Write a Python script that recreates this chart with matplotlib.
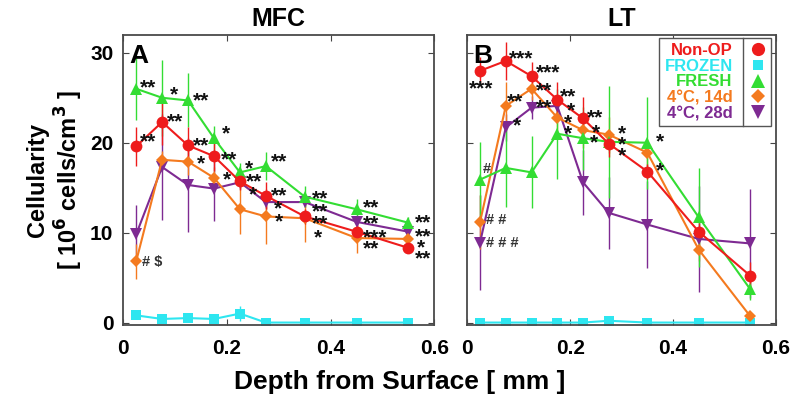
import matplotlib
matplotlib.use('Agg')
import matplotlib.pyplot as plt
from matplotlib.lines import Line2D

plt.rcParams['font.family'] = ['Liberation Sans', 'DejaVu Sans']
plt.rcParams['font.weight'] = 'bold'

# depth of each slice (mm)
depth = [0.025, 0.075, 0.125, 0.175, 0.225, 0.275, 0.35, 0.45, 0.55]

groups = ['Non-OP', 'FROZEN', 'FRESH', '4°C, 14d', '4°C, 28d']
colors = ['#ee1c1c', '#2ee6f0', '#33dd33', '#f47a1f', '#7e2a92']
markers = ['o', 's', '^', 'D', 'v']
msizes = [8.5, 6.5, 8.5, 6.5, 8.5]

# MFC cellularity (10^6 cells/cm^3) and error
mfc_nonop = [19.6, 22.3, 19.7, 18.5, 15.7, 14.1, 11.8, 10.1, 8.3]
mfc_nonop_err = [2.2, 2.5, 2.1, 1.6, 1.0, 1.5, 0.8, 0.8, 0.6]
mfc_frozen = [0.8, 0.4, 0.5, 0.4, 1.0, 0.0, 0.0, 0.0, 0.0]
mfc_frozen_err = [0.2, 0.2, 0.2, 0.2, 0.8, 0.0, 0.0, 0.0, 0.0]
mfc_fresh = [26.0, 25.0, 24.7, 20.5, 16.7, 17.4, 14.0, 12.6, 11.1]
mfc_fresh_err = [3.5, 4.2, 3.0, 1.4, 1.0, 1.6, 1.2, 1.1, 0.6]
mfc_14d = [6.8, 18.1, 17.9, 16.1, 12.6, 11.8, 11.6, 9.4, 9.3]
mfc_14d_err = [1.9, 1.0, 1.5, 1.2, 2.8, 3.1, 2.6, 1.7, 0.6]
mfc_28d = [9.8, 17.3, 15.3, 14.9, 15.6, 13.4, 13.4, 11.2, 10.1]
mfc_28d_err = [3.3, 5.9, 5.2, 3.6, 0.8, 0.8, 0.6, 0.8, 0.5]

# LT cellularity and error
lt_nonop = [28.0, 29.1, 27.4, 24.8, 22.7, 19.9, 16.8, 10.1, 5.2]
lt_nonop_err = [1.5, 2.1, 1.6, 1.9, 2.4, 1.5, 0.8, 1.0, 1.5]
lt_frozen = [0.0, 0.0, 0.0, 0.0, 0.0, 0.2, 0.0, 0.0, 0.0]
lt_frozen_err = [0, 0, 0, 0, 0, 0, 0, 0, 0]
lt_fresh = [15.9, 17.2, 16.7, 21.0, 20.5, 20.1, 20.0, 11.7, 3.7]
lt_fresh_err = [4.2, 4.3, 4.0, 5.0, 3.5, 6.2, 5.1, 5.5, 1.2]
lt_14d = [11.2, 24.1, 26.0, 22.8, 21.4, 20.9, 18.9, 8.1, 0.7]
lt_14d_err = [3.0, 2.6, 1.3, 1.5, 2.0, 2.0, 1.5, 1.2, 0.5]
lt_28d = [8.9, 21.7, 23.9, 24.1, 15.6, 12.2, 10.9, 9.3, 8.8]
lt_28d_err = [5.3, 1.5, 1.3, 1.2, 3.6, 4.0, 4.8, 5.9, 6.1]

mfc = [mfc_nonop, mfc_frozen, mfc_fresh, mfc_14d, mfc_28d]
mfc_err = [mfc_nonop_err, mfc_frozen_err, mfc_fresh_err, mfc_14d_err, mfc_28d_err]
lt = [lt_nonop, lt_frozen, lt_fresh, lt_14d, lt_28d]
lt_err = [lt_nonop_err, lt_frozen_err, lt_fresh_err, lt_14d_err, lt_28d_err]

# significance marks: (group index, depth index, text, dx px, dy px)
mfc_marks = [
    (2, 0, '**', 4, 7), (2, 1, '*', 8, 9), (2, 2, '**', 5, 6), (2, 3, '*', 8, 10),
    (0, 0, '**', 4, 10), (0, 1, '**', 5, 6), (0, 2, '**', 5, 6), (3, 2, '*', 9, 4),
    (0, 3, '**', 7, 2), (3, 3, '*', 9, 4), (2, 4, '*', 5, 10), (2, 4, '**', 6, -3),
    (4, 4, '*', 9, -7), (2, 5, '**', 5, 10), (0, 5, '**', 5, 6), (4, 5, '*', 8, -1),
    (3, 5, '*', 9, 1), (2, 6, '**', 7, 4), (4, 6, '**', 7, -4), (0, 6, '**', 7, -1),
    (3, 6, '*', 9, -14), (2, 7, '**', 6, 7), (4, 7, '**', 6, 4), (0, 7, '***', 6, 0),
    (3, 7, '**', 6, -5), (2, 8, '**', 6, 6), (4, 8, '**', 6, 1), (3, 8, '*', 8, -3),
    (0, 8, '**', 6, -5), (3, 0, '# $', 6, -1),
]
lt_marks = [
    (0, 1, '***', 3, 8), (0, 0, '***', -11, -12), (0, 2, '***', 4, 9),
    (3, 1, '**', 1, 10), (3, 2, '**', 4, 4), (4, 2, '**', 4, 6), (4, 1, '*', 7, 8),
    (0, 3, '**', 3, 9), (0, 3, '*', 10, -5), (3, 3, '*', 7, 1), (2, 3, '*', 7, 6),
    (0, 4, '**', 4, 7), (3, 4, '*', 9, 3), (2, 4, '*', 7, 1), (3, 5, '*', 9, 7),
    (2, 5, '*', 9, 3), (0, 5, '*', 9, -6), (2, 6, '*', 9, 7), (0, 6, '*', 9, 7),
    (2, 0, '#', 3, 11), (3, 0, '# #', 6, 2), (4, 0, '# # #', 6, 0),
]

fig = plt.figure(figsize=(8, 4.05), dpi=100)
ax1 = fig.add_axes([0.154, 0.198, 0.389, 0.716])
ax2 = fig.add_axes([0.584, 0.198, 0.386, 0.716])

draw_order = [1, 4, 3, 2, 0]
for ax, vals, errs, marks, title, letter in [
        (ax1, mfc, mfc_err, mfc_marks, 'MFC', 'A'),
        (ax2, lt, lt_err, lt_marks, 'LT', 'B')]:
    for g in draw_order:
        ax.errorbar(depth, vals[g], yerr=errs[g], color=colors[g], marker=markers[g],
                    markersize=msizes[g], markeredgewidth=0, lw=1.5, elinewidth=1.0,
                    capsize=2.5, capthick=1.0)
    for g, i, txt, dx, dy in marks:
        if '*' in txt:
            ax.annotate(txt, (depth[i], vals[g][i]), xytext=(dx, dy - 6),
                        textcoords='offset pixels', ha='left', va='center',
                        fontsize=15, color='#111111')
        else:
            ax.annotate(txt, (depth[i], vals[g][i]), xytext=(dx, dy),
                        textcoords='offset pixels', ha='left', va='center',
                        fontsize=10.5, color='#333333')
    ax.set_xlim(0, 0.6)
    ax.set_ylim(-0.25, 32)
    ax.set_xticks([0, 0.2, 0.4, 0.6])
    ax.set_xticklabels(['0', '0.2', '0.4', '0.6'])
    ax.set_yticks([0, 10, 20, 30])
    ax.tick_params(direction='in', length=4, top=True, right=True, labelsize=15,
                   color='#444444')
    ax.tick_params(axis='x', pad=10)
    ax.tick_params(axis='y', pad=7)
    for s in ax.spines.values():
        s.set_color('#4a4a4a')
        s.set_linewidth(1.3)
    ax.set_title(title, fontsize=18, fontweight='bold', pad=6)
    ax.text(0.02, 0.97, letter, transform=ax.transAxes, fontsize=19,
            fontweight='bold', ha='left', va='top')

ax2.tick_params(labelleft=False)
ax1.set_ylabel('Cellularity\n[ 10$^{\\mathbf{6}}$ cells/cm$^{\\mathbf{3}}$ ]',
               fontsize=17, fontweight='bold', linespacing=1.15, labelpad=4)
fig.text(0.5, 0.057, 'Depth from Surface [ mm ]', fontsize=19, fontweight='bold',
         ha='center', va='center')

handles = [Line2D([], [], color=colors[g], marker=markers[g], linestyle='none',
                  markersize=msizes[g] + 1, markeredgewidth=0) for g in range(5)]
leg = ax2.legend(handles, groups, loc='upper right', bbox_to_anchor=(0.984, 0.99),
                 markerfirst=False, labelcolor=colors, fontsize=12,
                 handlelength=1.0, handletextpad=1.0, borderpad=0.3,
                 labelspacing=0.05, fancybox=False, edgecolor='#555555',
                 framealpha=1, borderaxespad=0)
leg.get_frame().set_linewidth(1.0)

# divider between legend text and markers
fig.canvas.draw()
bb = leg.get_window_extent()
xdiv = bb.x1 - 28
fig.add_artist(Line2D([xdiv, xdiv], [bb.y0, bb.y1], color='#555555', lw=1.0,
                      transform=None))

fig.savefig('out.png', dpi=100)
